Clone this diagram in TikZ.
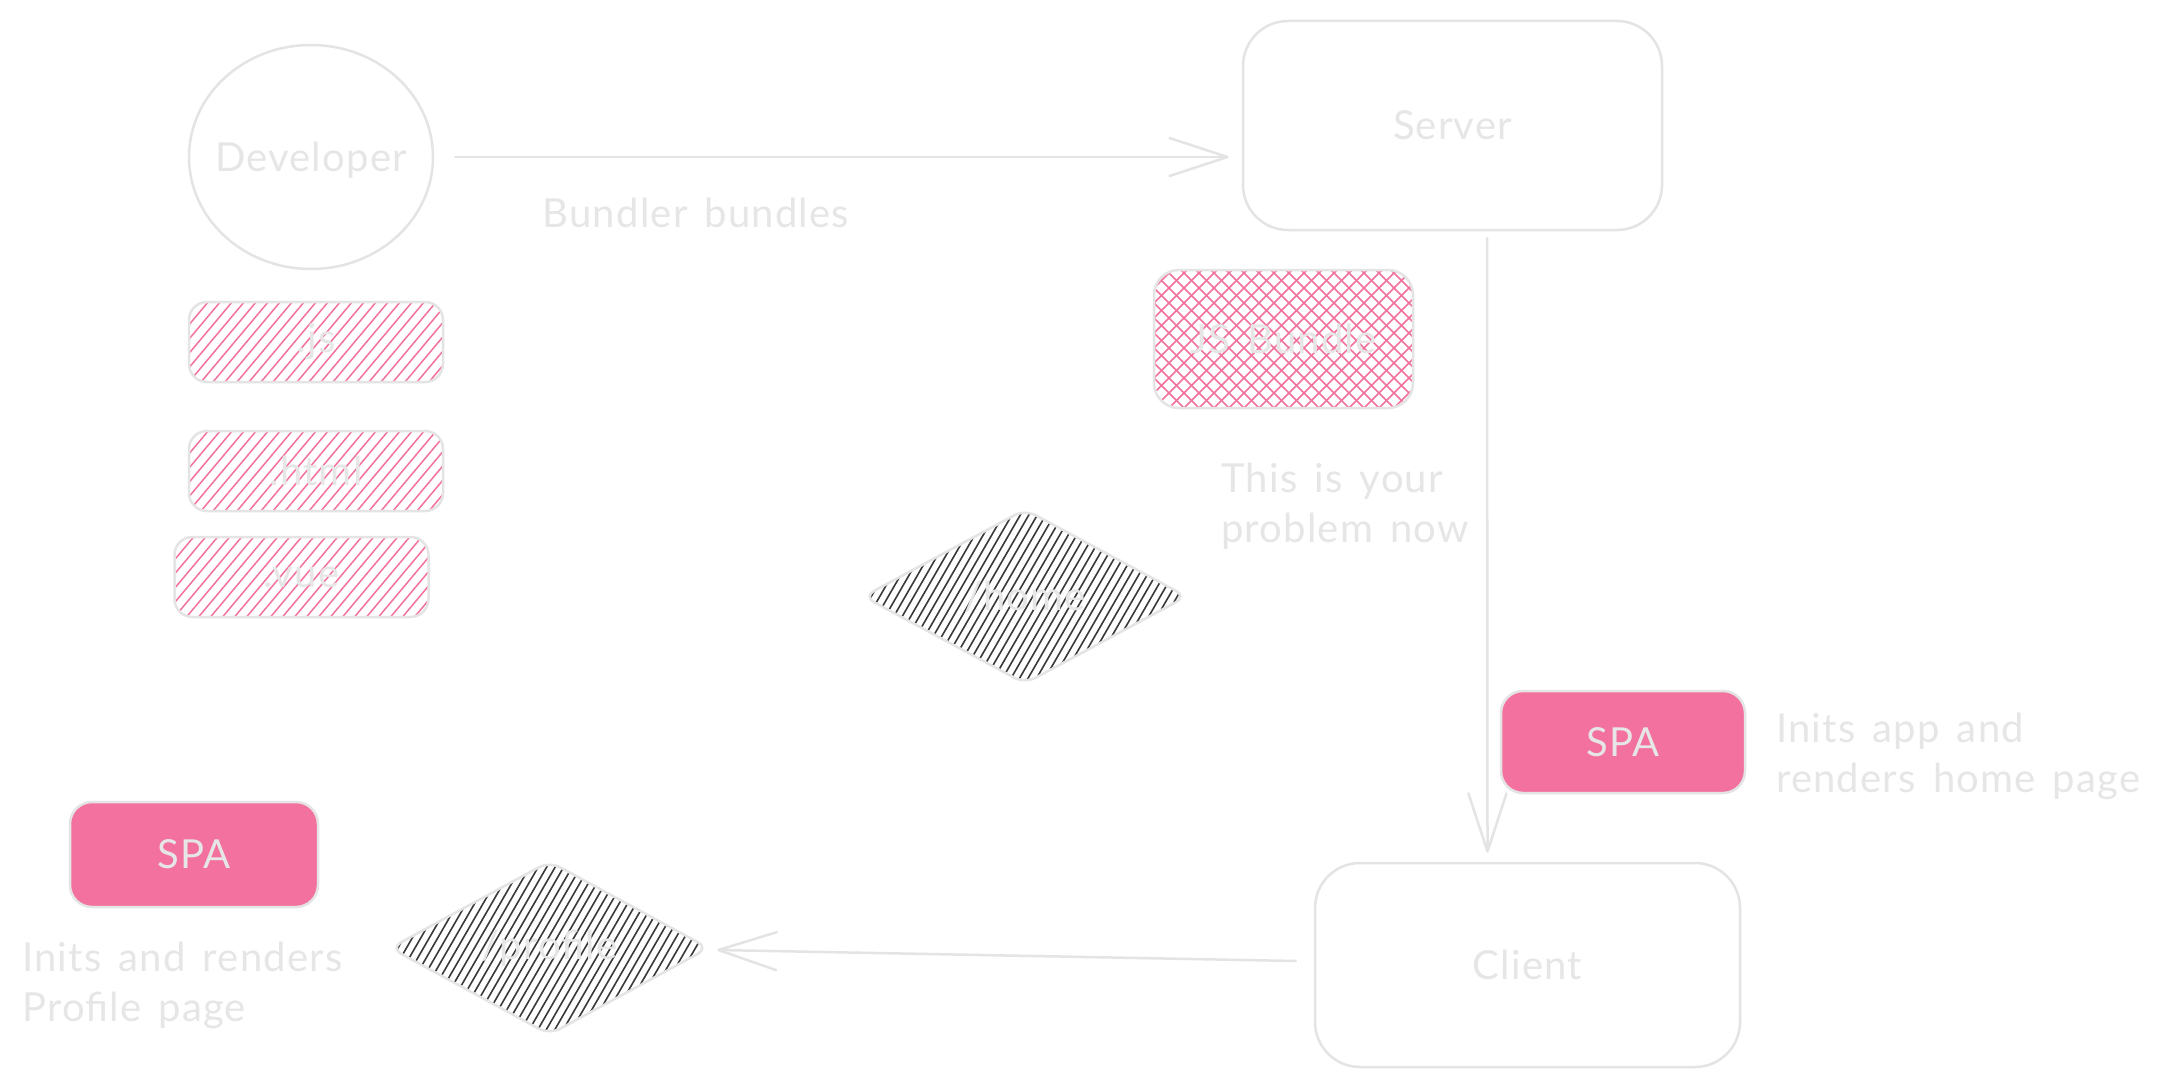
\documentclass[tikz,border=0pt]{standalone}
\usepackage{fontspec}
\setmainfont{Lato}[LetterSpace=3, WordSpace=1.5]
\usetikzlibrary{shapes.geometric,arrows.meta,calc}
\definecolor{edge}{HTML}{E4E4E4}
\definecolor{ink}{HTML}{E6E6E6}
\definecolor{pinkc}{HTML}{F3719E}
\definecolor{darkh}{HTML}{3A3A3A}
\begin{document}
\begin{tikzpicture}[x=1pt,y=-1pt,
  every node/.style={font=\fontsize{40}{50}\selectfont, text=ink, inner sep=0pt},
  outline/.style={draw=edge, line width=2.5pt},
  rbox/.style={outline, rectangle, rounded corners=#1},
  rbox/.default=20pt,
  dmd/.style={outline, diamond, shape aspect=1.85, rounded corners=12pt},
  arr/.style={draw=edge, line width=2.5pt, line cap=round,
    -{Straight Barb[length=58pt, width=38pt, line width=2.5pt, round]}},
  pinkhatch/.style={path picture={
    \foreach \k in {-20,...,45}{
      \draw[pinkc, line width=1.5pt] ([xshift=\k*12pt]path picture bounding box.south west) -- ++(50:400pt);
    }}},
  darkhatch/.style={path picture={
    \foreach \k in {-16,...,46}{
      \draw[darkh, line width=1.6pt] ([xshift=\k*8.5pt]path picture bounding box.south west) -- ++(60:400pt);
    }}},
  crosshatch/.style={path picture={
    \foreach \k in {-11,...,20}{
      \draw[pinkc, line width=1.6pt] ([xshift=\k*15pt]path picture bounding box.south west) -- ++(45:400pt);
    }
    \foreach \k in {0,...,30}{
      \draw[pinkc, line width=1.6pt] ([xshift=\k*15pt]path picture bounding box.south west) -- ++(135:400pt);
    }}},
]
\useasboundingbox[fill=white] (0,0) rectangle (2159,1086);

% main nodes
\node[outline, ellipse, minimum width=244pt, minimum height=224pt] (dev) at (311,157) {};
\node (devlabel) at ([yshift=-3pt]dev.center) {Developer};
\node[rbox=45pt, minimum width=419pt, minimum height=209pt] (server) at (1452.5,125.5) {Server};
\node[rbox=45pt, minimum width=425pt, minimum height=204pt] (client) at (1527.5,965) {Client};

% pink hatched source boxes
\node[rbox=18pt, pinkhatch, minimum width=254pt, minimum height=80pt] (js) at (316,342) {.js};
\node[rbox=18pt, pinkhatch, minimum width=254pt, minimum height=80pt] (html) at (316,471) {.html};
\node[rbox=18pt, pinkhatch, minimum width=254pt, minimum height=80pt] (vue) at (301.5,577) {.vue};

% JS bundle
\node[rbox=25pt, crosshatch, minimum width=259pt, minimum height=138pt] (jsb) at (1283.5,339) {JS Bundle};

% diamonds
\node[dmd, darkhatch, minimum width=324pt, minimum height=175pt] (home) at (1025,596.5) {/home};
\node[dmd, darkhatch, minimum width=319pt, minimum height=174pt] (profile) at (549.5,948) {/profile};

% SPA boxes
\node[rbox=22pt, fill=pinkc, minimum width=244pt, minimum height=102pt] (spar) at (1623,742) {SPA};
\node[rbox=22pt, fill=pinkc, minimum width=248pt, minimum height=105pt] (spal) at (194,854.5) {SPA};

% texts
\node (bund) at (696,213) {Bundler bundles};
\node[anchor=west, align=left] (prob) at (1221,506) {This is your\\problem now};
\node[anchor=west, align=left] (inith) at (1776,756) {Inits app and\\renders home page};
\node[anchor=west, align=left] (initp) at (22,985) {Inits and renders\\Profile page};

% connectors
\coordinate (devend) at (server.west |- dev.east);
\draw[arr] ([xshift=21pt]dev.east) -- ([xshift=-13pt]devend);
\draw[arr] ([xshift=34.5pt, yshift=-7pt]server.south) -- ([xshift=-40pt, yshift=9pt]client.north);
\draw[arr] ([xshift=-18pt, yshift=4pt]client.west) -- ([xshift=7pt, yshift=-2pt]profile.east);
\end{tikzpicture}
\end{document}
